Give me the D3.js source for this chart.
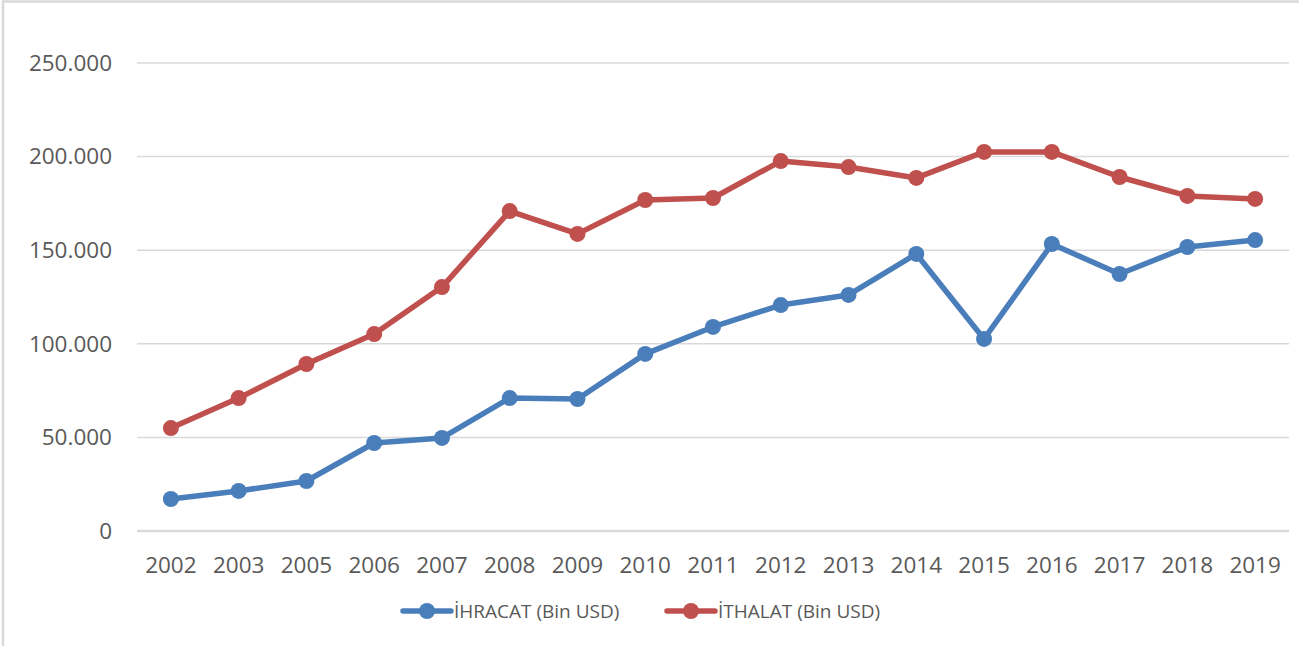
<!DOCTYPE html>
<html>
<head>
<meta charset="utf-8">
<script src="https://cdn.jsdelivr.net/npm/d3@7"></script>
<style>
  body { margin: 0; background: #fff; }
  svg text { font-family: "Open Sans", sans-serif; fill: #595959; }
</style>
</head>
<body>
<svg width="1299" height="646"></svg>
<script>
'use strict';

// yillar (2004 yok)
var years = ["2002","2003","2005","2006","2007","2008","2009","2010","2011",
             "2012","2013","2014","2015","2016","2017","2018","2019"];
// Bin USD
var ihracat = [17100, 21400, 26700, 47000, 49700, 71000, 70500, 94600, 109000,
               120700, 126100, 148000, 102600, 153300, 137300, 151700, 155400];
var ithalat = [55000, 71000, 89200, 105200, 130300, 170900, 158700, 176800, 177900,
               197600, 194400, 188600, 202500, 202500, 189100, 179000, 177400];
var yTicks = [0, 50000, 100000, 150000, 200000, 250000];
var seriesNames = ["İHRACAT (Bin USD)", "İTHALAT (Bin USD)"];
var colors = ["#4a7ebb", "#c0504d"];

var svg = d3.select("svg");

// outer chart frame (only left/top are visible in the crop)
svg.append("path")
  .attr("d", "M3,646 L3,1.5 L1299,1.5")
  .attr("fill", "none")
  .attr("stroke", "#d9d9d9")
  .attr("stroke-width", 2.5);

var plotL = 137, plotR = 1289, plotT = 63, plotB = 531;

var x = d3.scalePoint().domain(years).range([plotL, plotR]).padding(0.5);
var y = d3.scaleLinear().domain([0, 250000]).range([plotB, plotT]);

var fmt = function(v) { return v === 0 ? "0" : d3.format(",")(v).replace(/,/g, "."); };

// gridlines
svg.append("g")
  .selectAll("line")
  .data(yTicks.slice(1))
  .enter()
  .append("line")
  .attr("x1", plotL).attr("x2", plotR)
  .attr("y1", function(d) { return y(d); })
  .attr("y2", function(d) { return y(d); })
  .attr("stroke", "#d9d9d9")
  .attr("stroke-width", 1.5);

// y labels
svg.append("g")
  .selectAll("text")
  .data(yTicks)
  .enter()
  .append("text")
  .attr("x", 112)
  .attr("y", function(d) { return y(d); })
  .attr("dy", "0.35em")
  .attr("text-anchor", "end")
  .style("font-size", "22.5px")
  .text(fmt);

// x axis line
svg.append("line")
  .attr("x1", plotL).attr("x2", plotR)
  .attr("y1", plotB).attr("y2", plotB)
  .attr("stroke", "#d9d9d9")
  .attr("stroke-width", 2.5);

// x labels
svg.append("g")
  .selectAll("text")
  .data(years)
  .enter()
  .append("text")
  .attr("x", function(d) { return x(d); })
  .attr("y", 565)
  .attr("dy", "0.35em")
  .attr("text-anchor", "middle")
  .style("font-size", "22.5px")
  .text(function(d) { return d; });

var line = d3.line()
  .x(function(d, i) { return x(years[i]); })
  .y(function(d) { return y(d); });

[ihracat, ithalat].forEach(function(vals, k) {
  var g = svg.append("g");
  g.append("path")
    .datum(vals)
    .attr("d", line)
    .attr("fill", "none")
    .attr("stroke", colors[k])
    .attr("stroke-width", 5.5)
    .attr("stroke-linejoin", "round");
  g.selectAll("circle")
    .data(vals)
    .enter()
    .append("circle")
    .attr("cx", function(d, i) { return x(years[i]); })
    .attr("cy", function(d) { return y(d); })
    .attr("r", 8)
    .attr("fill", colors[k]);
});

// legend
var legendX = [403, 667];
var legend = svg.selectAll(".legend")
  .data(seriesNames)
  .enter()
  .append("g")
  .attr("class", "legend")
  .attr("transform", function(d, i) { return "translate(" + legendX[i] + ",611)"; });

legend.append("line")
  .attr("x1", 0).attr("x2", 48)
  .attr("stroke", function(d, i) { return colors[i]; })
  .attr("stroke-width", 5.5)
  .attr("stroke-linecap", "round");

legend.append("circle")
  .attr("cx", 24)
  .attr("r", 8)
  .attr("fill", function(d, i) { return colors[i]; });

legend.append("text")
  .attr("x", 51)
  .attr("dy", "0.35em")
  .style("font-size", "19px")
  .text(function(d) { return d; });
</script>
</body>
</html>
